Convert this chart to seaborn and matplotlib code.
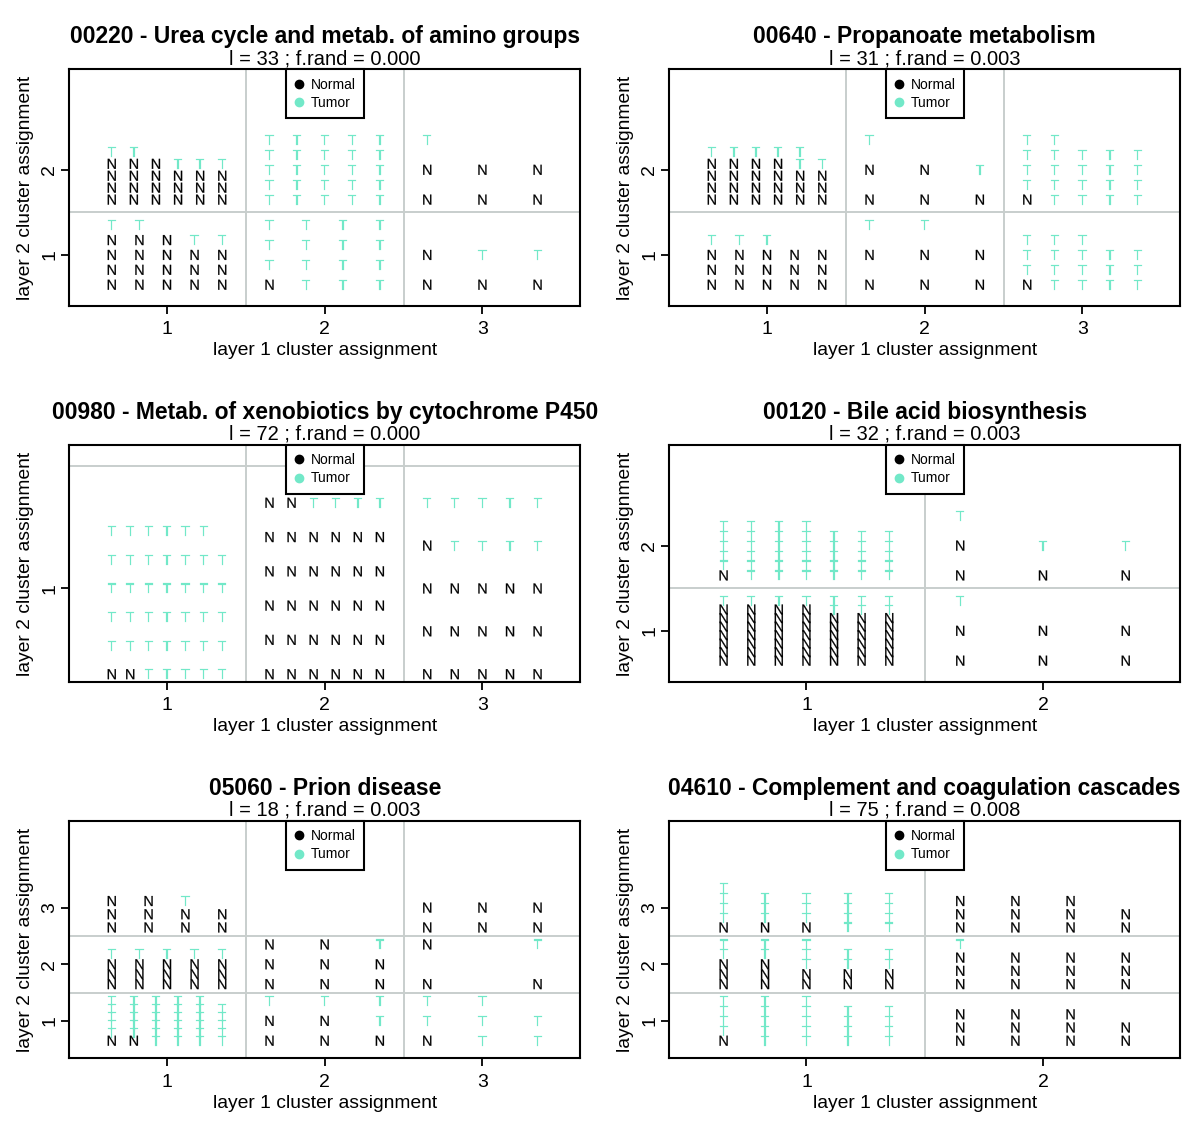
import matplotlib
matplotlib.use("Agg")
import matplotlib.pyplot as plt
import numpy as np
import pandas as pd
import seaborn as sns
from matplotlib.font_manager import FontProperties
from matplotlib.lines import Line2D
from matplotlib.path import Path
from matplotlib.textpath import TextPath

TUMOR = "#72e8c8"
NORMAL = "black"
GRID = "#c8cecd"

# each cell: (layer 1 cluster, layer 2 cluster) -> columns, letters listed bottom to top
UREA_TITLE = "00220 - Urea cycle and metab. of amino groups"
UREA_STATS = "l = 33 ; f.rand = 0.000"
UREA_CELLS = {
    (1, 1): ["NNNNT", "NNNNT", "NNNN", "NNNT", "NNNT"],
    (1, 2): ["NNNNT", "NNNNT", "NNNN", "NNNT", "NNNT", "NNNT"],
    (2, 1): ["NTTT", "TTTT", "TTTT", "TTTT"],
    (2, 2): ["TTTTT", "TTTTT", "TTTTT", "TTTTT", "TTTTT"],
    (3, 1): ["NN", "NT", "NT"],
    (3, 2): ["NNT", "NN", "NN"],
}

PROP_TITLE = "00640 - Propanoate metabolism"
PROP_STATS = "l = 31 ; f.rand = 0.003"
PROP_CELLS = {
    (1, 1): ["NNNT", "NNNT", "NNNT", "NNN", "NNN"],
    (1, 2): ["NNNNT", "NNNNT", "NNNNT", "NNNNT", "NNNTT", "NNNT"],
    (2, 1): ["NNT", "NNT", "NN"],
    (2, 2): ["NNT", "NN", "NT"],
    (3, 1): ["NTTT", "TTTT", "TTTT", "TTT", "TTT"],
    (3, 2): ["NTTTT", "TTTTT", "TTTT", "TTTT", "TTTT"],
}

XENO_TITLE = "00980 - Metab. of xenobiotics by cytochrome P450"
XENO_STATS = "l = 72 ; f.rand = 0.000"
XENO_CELLS = {
    (1, 1): ["NTTTTT", "NTTTTT", "TTTTTT", "TTTTTT", "TTTTTT", "TTTTTT", "TTTTT"],
    (2, 1): ["NNNNNN", "NNNNNN", "NNNNNT", "NNNNNT", "NNNNNT", "NNNNNT"],
    (3, 1): ["NNNNT", "NNNTT", "NNNTT", "NNNTT", "NNNTT"],
}

BILE_TITLE = "00120 - Bile acid biosynthesis"
BILE_STATS = "l = 32 ; f.rand = 0.003"
BILE_CELLS = {
    (1, 1): ["NNNNNNNT"] * 4 + ["NNNNNNTT"] * 3,
    (1, 2): ["NTTTTT", "TTTTTT", "TTTTTT", "TTTTTT", "TTTTT", "TTTTT", "TTTTT"],
    (2, 1): ["NNT", "NN", "NN"],
    (2, 2): ["NNT", "NT", "NT"],
}

PRION_TITLE = "05060 - Prion disease"
PRION_STATS = "l = 18 ; f.rand = 0.003"
PRION_CELLS = {
    (1, 1): ["NTTTTT", "NTTTTT", "TTTTTT", "TTTTTT", "TTTTTT", "TTTTT"],
    (1, 2): ["NNNT"] * 5,
    (1, 3): ["NNN", "NNN", "NNT", "NN"],
    (2, 1): ["NNT", "NNT", "NTT"],
    (2, 2): ["NNN", "NNN", "NNT"],
    (3, 1): ["NTT", "TTT", "TT"],
    (3, 2): ["NN", "NT"],
    (3, 3): ["NN", "NN", "NN"],
}

COMP_TITLE = "04610 - Complement and coagulation cascades"
COMP_STATS = "l = 75 ; f.rand = 0.008"
COMP_CELLS = {
    (1, 1): ["NTTTT", "TTTTT", "TTTTT", "TTTT", "TTTT"],
    (1, 2): ["NNNTT", "NNNTT", "NNTTT", "NNTT", "NNTT"],
    (1, 3): ["NTTTT", "NTTT", "NTTT", "TTTT", "TTTT"],
    (2, 1): ["NNN", "NNN", "NNN", "NN"],
    (2, 2): ["NNNT", "NNN", "NNN", "NNN"],
    (2, 3): ["NNN", "NNN", "NNN", "NN"],
}

# (title, stats, cells, n layer1 clusters, n layer2 clusters, y limits)
PANELS = [
    (UREA_TITLE, UREA_STATS, UREA_CELLS, 3, 2, (0.40, 3.18)),
    (PROP_TITLE, PROP_STATS, PROP_CELLS, 3, 2, (0.40, 3.18)),
    (XENO_TITLE, XENO_STATS, XENO_CELLS, 3, 1, (0.618, 1.586)),
    (BILE_TITLE, BILE_STATS, BILE_CELLS, 2, 2, (0.40, 3.18)),
    (PRION_TITLE, PRION_STATS, PRION_CELLS, 3, 3, (0.34, 4.53)),
    (COMP_TITLE, COMP_STATS, COMP_CELLS, 2, 3, (0.34, 4.53)),
]

SPREAD = 0.35


def letter_marker(ch):
    """Glyph outline centred on its own bounding box, usable as a marker."""
    tp = TextPath((0, 0), ch, size=10, prop=FontProperties(family="Liberation Sans"))
    bb = tp.get_extents()
    verts = tp.vertices.copy()
    codes = tp.codes
    start = verts[0].copy()
    for i, c in enumerate(codes):
        if c == Path.MOVETO:
            start = verts[i].copy()
        elif c == Path.CLOSEPOLY:
            verts[i] = start
    verts -= [(bb.x0 + bb.x1) / 2, (bb.y0 + bb.y1) / 2]
    return Path(verts, codes)


def spread(n):
    if n == 1:
        return np.zeros(1)
    return np.linspace(-SPREAD, SPREAD, n)


def cell_points(cells):
    rows = []
    for (cx, cy), columns in cells.items():
        ncol = len(columns)
        k = max(ncol, max(len(c) for c in columns))
        xs = cx + spread(ncol)
        ys = cy + spread(k)
        for j, col in enumerate(columns):
            for i, ch in enumerate(col):
                rows.append({"x": xs[j], "y": ys[i], "group": ch})
    return pd.DataFrame(rows)


sns.set_theme(style="ticks")
plt.rcParams["font.family"] = ["Liberation Sans", "DejaVu Sans"]
plt.rcParams["text.color"] = "black"
plt.rcParams["axes.labelcolor"] = "black"

markers = {"N": letter_marker("N"), "T": letter_marker("T")}
palette = {"N": NORMAL, "T": TUMOR}

fig = plt.figure(figsize=(12, 11.28), dpi=100)
lefts = [0.0577, 0.5577]
rows_pos = [(0.7287, 0.2098), (0.3954, 0.2101), (0.0618, 0.2104)]

for idx, (title, stats, cells, nx, ny, ylim) in enumerate(PANELS):
    bottom, height = rows_pos[idx // 2]
    ax = fig.add_axes([lefts[idx % 2], bottom, 0.4258, height])
    df = cell_points(cells)

    for b in range(1, max(nx, 2)):
        ax.axvline(b + 0.5, color=GRID, lw=1.4, zorder=1)
    for b in range(1, max(ny, 2)):
        ax.axhline(b + 0.5, color=GRID, lw=1.4, zorder=1)

    sns.scatterplot(
        data=df, x="x", y="y", hue="group", style="group",
        markers=markers, palette=palette, s=52, linewidth=0.15,
        edgecolor="face", legend=False, ax=ax, zorder=3,
    )

    pad = 0.04 * nx
    ax.set_xlim(0.5 - pad, nx + 0.5 + pad)
    ax.set_ylim(*ylim)
    ax.set_xticks(range(1, nx + 1))
    ax.set_yticks(range(1, ny + 1))
    ax.set_xticklabels([str(v) for v in range(1, nx + 1)])
    ax.set_yticklabels([str(v) for v in range(1, ny + 1)], rotation=90, va="center")
    ax.tick_params(axis="both", length=5.5, width=1.3, color="black",
                   labelsize=14, labelcolor="black")
    ax.tick_params(axis="x", pad=5.5)
    ax.tick_params(axis="y", pad=2.5)
    for sp in ax.spines.values():
        sp.set_visible(True)
        sp.set_color("black")
        sp.set_linewidth(1.5)
    ax.set_xlabel("layer 1 cluster assignment", fontsize=13.9, labelpad=3)
    ax.set_ylabel("layer 2 cluster assignment", fontsize=13.9, labelpad=5)

    h_px = height * 1128
    ax.text(0.5, 1 + 26 / h_px, title, transform=ax.transAxes, ha="center",
            va="baseline", fontsize=16.5, fontweight="bold", color="black")
    ax.text(0.5, 1 + 5 / h_px, stats, transform=ax.transAxes, ha="center",
            va="baseline", fontsize=14.5, color="black")

    handles = [
        Line2D([], [], marker="o", ls="", color=NORMAL, markersize=6),
        Line2D([], [], marker="o", ls="", color=TUMOR, markersize=6),
    ]
    leg = ax.legend(handles, ["Normal", "Tumor"], loc="upper center",
                    bbox_to_anchor=(0.5, 1.0), borderaxespad=0, frameon=True,
                    fancybox=False, edgecolor="black", framealpha=1,
                    fontsize=10, handlelength=0.7, handletextpad=0.5,
                    borderpad=0.6, labelspacing=0.3)
    leg.get_frame().set_linewidth(1.5)
    leg.set_zorder(5)

fig.savefig("out.png", dpi=100, facecolor="white")
